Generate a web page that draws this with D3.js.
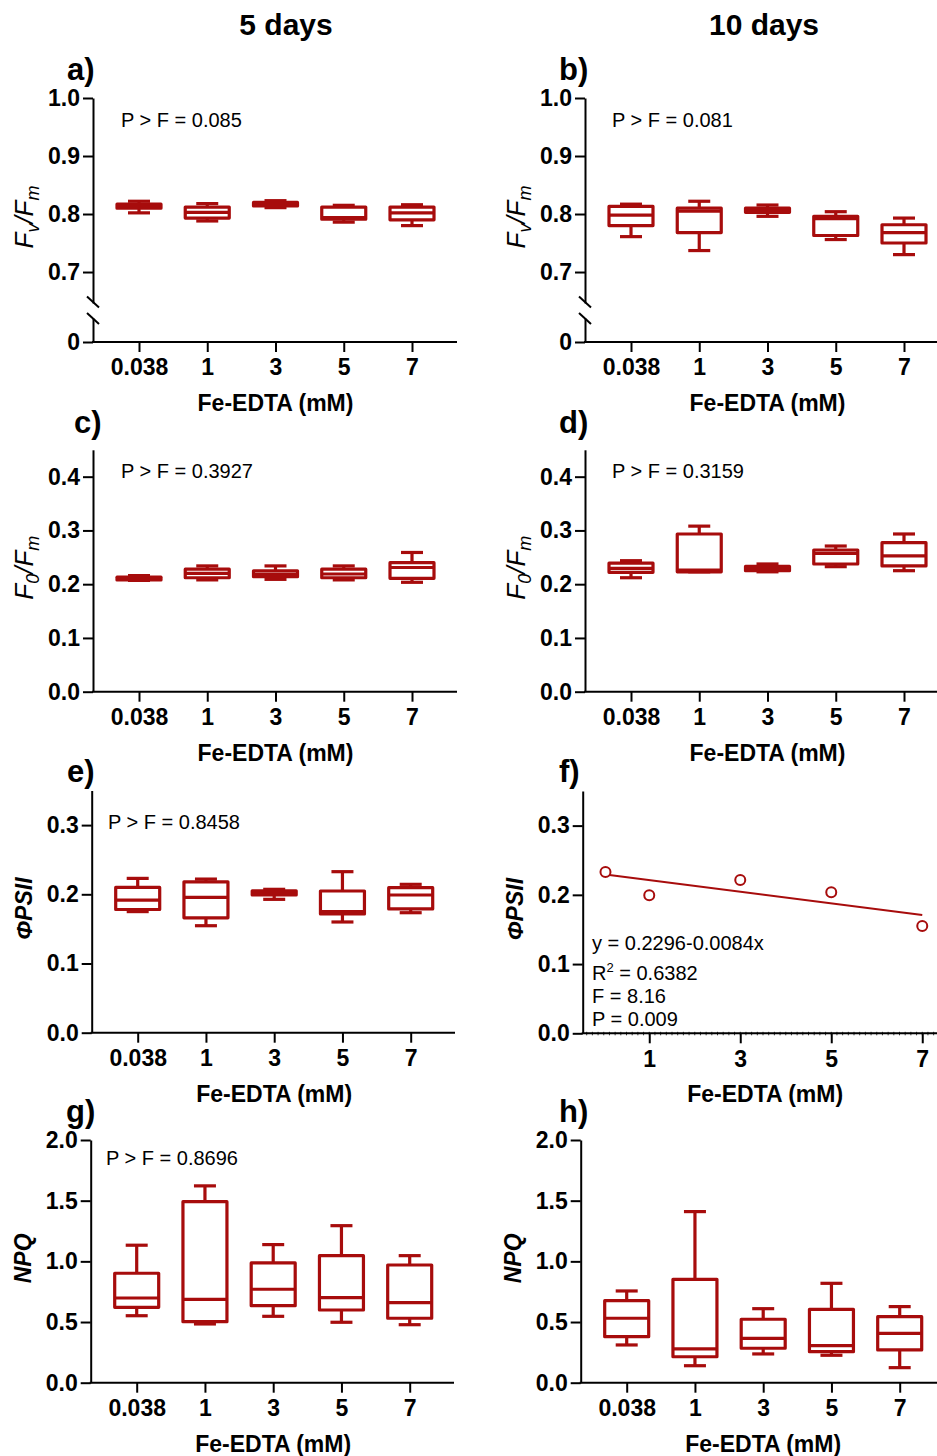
<!DOCTYPE html>
<html>
<head>
<meta charset="utf-8">
<script src="https://cdn.jsdelivr.net/npm/d3@7"></script>
<style>
body { margin: 0; background: #fff; }
svg { display: block; font-family: Arial, "Liberation Sans", sans-serif; }
.axis path, .axis line { stroke: #000; stroke-width: 2; }
.axis text { font-weight: bold; font-size: 23px; fill: #000; font-family: Arial, "Liberation Sans", sans-serif; }
</style>
</head>
<body>
<svg width="937" height="1456"></svg>
<script>
// doses on the x axis
const doses = [ "0.038", "1", "3", "5", "7" ];

// box stats per dose: [min, q1, median, q3, max]
const fvfm5d  = [ [0.802,0.810,0.814,0.817,0.822], [0.788,0.793,0.803,0.812,0.818], [0.811,0.814,0.817,0.820,0.823], [0.786,0.791,0.794,0.812,0.815], [0.780,0.790,0.802,0.812,0.816] ];
const fvfm10d = [ [0.761,0.780,0.798,0.813,0.817], [0.737,0.768,0.805,0.810,0.822], [0.796,0.803,0.806,0.810,0.8155], [0.756,0.763,0.792,0.796,0.804], [0.730,0.750,0.768,0.7815,0.793] ];
const fofm5d  = [ [0.207,0.208,0.210,0.213,0.216], [0.208,0.212,0.220,0.228,0.234], [0.209,0.214,0.219,0.225,0.234], [0.208,0.212,0.219,0.228,0.234], [0.2035,0.211,0.231,0.240,0.259] ];
const fofm10d = [ [0.212,0.222,0.2296,0.239,0.2437], [0.223,0.223,0.226,0.2934,0.308], [0.223,0.2251,0.229,0.233,0.2376], [0.2326,0.2376,0.2575,0.2636,0.271], [0.2251,0.2339,0.2525,0.2773,0.2934] ];
const psii5d  = [ [0.175,0.178,0.1917,0.210,0.223], [0.1546,0.166,0.1956,0.218,0.222], [0.1927,0.199,0.202,0.205,0.2072], [0.160,0.1715,0.175,0.2048,0.2327], [0.1734,0.1788,0.199,0.2096,0.2144] ];
const npq5d   = [ [0.552,0.621,0.698,0.902,1.133], [0.484,0.503,0.687,1.492,1.622], [0.547,0.635,0.770,0.987,1.138], [0.498,0.599,0.701,1.047,1.294], [0.478,0.531,0.660,0.970,1.047] ];
const npq10d  = [ [0.311,0.379,0.531,0.676,0.756], [0.140,0.214,0.278,0.852,1.410], [0.237,0.284,0.366,0.523,0.610], [0.226,0.256,0.305,0.605,0.819], [0.124,0.270,0.407,0.544,0.627] ];

// panel f: regression of PSII on dose (10 days)
const psii10dX = [ 0.038, 1, 3, 5, 7 ];
const psii10dY = [ 0.233, 0.1994, 0.2215, 0.2037, 0.155 ];
const fitIntercept = 0.2296, fitSlope = -0.0084;
const fitLines = [ "y = 0.2296-0.0084x", "R2 = 0.6382", "F = 8.16", "P = 0.009" ];

// tick values
const fvfmTicks = [ 0.7, 0.8, 0.9, 1.0 ];
const fofmTicks = [ 0.0, 0.1, 0.2, 0.3, 0.4 ];
const psiiTicks = [ 0.0, 0.1, 0.2, 0.3 ];
const npqTicks  = [ 0.0, 0.5, 1.0, 1.5, 2.0 ];
const regTicks  = [ 1, 3, 5, 7 ];

const pTexts = { a: "P > F = 0.085", b: "P > F = 0.081", c: "P > F = 0.3927", d: "P > F = 0.3159", e: "P > F = 0.8458", g: "P > F = 0.8696" };

const RED = "#a70c0c";
const svg = d3.select( "svg" );

svg.append( "text" ).attr( "x", 286 ).attr( "y", 35 ).attr( "text-anchor", "middle" )
	.style( "font-weight", "bold" ).style( "font-size", "30px" ).text( "5 days" );
svg.append( "text" ).attr( "x", 764 ).attr( "y", 35 ).attr( "text-anchor", "middle" )
	.style( "font-weight", "bold" ).style( "font-size", "30px" ).text( "10 days" );

function ylabel ( g, x, y, kind ) {
	let t = g.append( "text" ).attr( "transform", `translate(${x},${y}) rotate(-90)` )
		.attr( "text-anchor", "middle" ).style( "font-style", "italic" ).style( "font-size", "26px" );
	if ( kind === "fvfm" || kind === "fofm" ) {
		t.append( "tspan" ).text( "F" );
		t.append( "tspan" ).attr( "dy", 6 ).style( "font-size", "18px" ).text( kind === "fvfm" ? "v" : "0" );
		t.append( "tspan" ).attr( "dy", -6 ).text( "/F" );
		t.append( "tspan" ).attr( "dy", 6 ).style( "font-size", "18px" ).text( "m" );
	} else {
		t.style( "font-weight", "bold" ).style( "font-size", "23px" ).text( kind === "psii" ? "\u03A6PSII" : "NPQ" );
	}
}

function xaxis ( g, x, p ) {
	let ax = g.append( "g" ).attr( "class", "axis" ).attr( "transform", `translate(0,${p.axisY})` )
		.call( d3.axisBottom( x ).tickSize( 10 ).tickPadding( 7 ).tickSizeOuter( 0 ) );
	ax.select( ".domain" ).remove();
	ax.append( "line" ).attr( "x1", p.x0 - 1 ).attr( "x2", p.xEnd ).attr( "y1", 0 ).attr( "y2", 0 );
	g.append( "text" ).attr( "x", ( x.range()[0] + x.range()[1] ) / 2 ).attr( "y", p.axisY + 69 )
		.attr( "text-anchor", "middle" ).style( "font-weight", "bold" ).style( "font-size", "23px" ).text( "Fe-EDTA (mM)" );
}

function boxes ( g, x, y, data ) {
	let b = g.selectAll( ".box" ).data( data ).enter().append( "g" ).attr( "class", "box" )
		.attr( "transform", ( d, i ) => `translate(${x( doses[i] )},0)` )
		.style( "stroke", RED ).style( "stroke-width", 3.2 ).style( "fill", "none" ).style( "stroke-linejoin", "round" );
	b.append( "line" ).attr( "y1", d => y( d[4] ) ).attr( "y2", d => y( d[3] ) );
	b.append( "line" ).attr( "y1", d => y( d[1] ) ).attr( "y2", d => y( d[0] ) );
	b.append( "line" ).attr( "x1", -11 ).attr( "x2", 11 ).attr( "y1", d => y( d[4] ) ).attr( "y2", d => y( d[4] ) );
	b.append( "line" ).attr( "x1", -11 ).attr( "x2", 11 ).attr( "y1", d => y( d[0] ) ).attr( "y2", d => y( d[0] ) );
	b.append( "rect" ).attr( "x", -22 ).attr( "width", 44 )
		.attr( "y", d => y( d[3] ) ).attr( "height", d => Math.max( 0.5, y( d[1] ) - y( d[3] ) ) );
	b.append( "line" ).attr( "x1", -22 ).attr( "x2", 22 ).attr( "y1", d => y( d[2] ) ).attr( "y2", d => y( d[2] ) );
}

function labels ( g, p ) {
	g.append( "text" ).attr( "x", p.lx ).attr( "y", p.ly ).style( "font-weight", "bold" ).style( "font-size", "31px" ).text( p.id + ")" );
	if ( pTexts[ p.id ] ) g.append( "text" ).attr( "x", p.px ).attr( "y", p.py ).style( "font-size", "20px" ).text( pTexts[ p.id ] );
}

// broken axis panels (Fv/Fm)
function brokenPanel ( p, data ) {
	let g = svg.append( "g" );
	let x = d3.scalePoint().domain( doses ).range( [ p.x0 + 46, p.x0 + 319 ] );
	let y = d3.scaleLinear().domain( [ 0.6466, 1.0 ] ).range( [ 303, 98 ] );
	let yLow = d3.scaleLinear().domain( [ 0, 0.04 ] ).range( [ p.axisY, 318 ] );
	g.append( "g" ).attr( "class", "axis" ).attr( "transform", `translate(${p.x0},0)` )
		.call( d3.axisLeft( y ).tickValues( fvfmTicks ).tickFormat( d3.format( ".1f" ) ).tickSize( 10 ).tickPadding( 3 ).tickSizeOuter( 0 ) );
	g.append( "g" ).attr( "class", "axis" ).attr( "transform", `translate(${p.x0},0)` )
		.call( d3.axisLeft( yLow ).tickValues( [ 0 ] ).tickFormat( d3.format( "d" ) ).tickSize( 10 ).tickPadding( 3 ).tickSizeOuter( 0 ) );
	[ 302, 318.5 ].forEach( yc => {
		g.append( "line" ).attr( "x1", p.x0 - 6 ).attr( "x2", p.x0 + 6 ).attr( "y1", yc - 5.5 ).attr( "y2", yc + 5.5 )
			.style( "stroke", "#000" ).style( "stroke-width", 2 );
	});
	xaxis( g, x, p );
	boxes( g, x, y, data );
	ylabel( g, p.x0 - 60, 217, "fvfm" );
	labels( g, p );
}

function boxPanel ( p, data, ticks, fmt, top, kind ) {
	let g = svg.append( "g" );
	let x = d3.scalePoint().domain( doses ).range( [ p.x0 + 46, p.x0 + 319 ] );
	let y = d3.scaleLinear().domain( [ 0, top ] ).range( [ p.axisY, p.yTop ] );
	g.append( "g" ).attr( "class", "axis" ).attr( "transform", `translate(${p.x0},0)` )
		.call( d3.axisLeft( y ).tickValues( ticks ).tickFormat( d3.format( fmt ) ).tickSize( 10 ).tickPadding( 3 ).tickSizeOuter( 0 ) );
	xaxis( g, x, p );
	boxes( g, x, y, data );
	ylabel( g, p.x0 - 60, ( p.axisY + p.yTop ) / 2 - 3, kind );
	labels( g, p );
}

brokenPanel( { id: "a", x0: 93, xEnd: 457, axisY: 342, lx: 67, ly: 80, px: 121, py: 127 }, fvfm5d );
brokenPanel( { id: "b", x0: 585, xEnd: 937, axisY: 342, lx: 559, ly: 80, px: 612, py: 127 }, fvfm10d );
boxPanel( { id: "c", x0: 93, xEnd: 457, axisY: 691.7, yTop: 449.8, lx: 74, ly: 433, px: 121, py: 478 }, fofm5d, fofmTicks, ".1f", 0.45, "fofm" );
boxPanel( { id: "d", x0: 585, xEnd: 937, axisY: 691.7, yTop: 449.8, lx: 559, ly: 433, px: 612, py: 478 }, fofm10d, fofmTicks, ".1f", 0.45, "fofm" );
boxPanel( { id: "e", x0: 91.7, xEnd: 455, axisY: 1032.7, yTop: 790.5, lx: 67, ly: 782, px: 108, py: 829 }, psii5d, psiiTicks, ".1f", 0.35, "psii" );
boxPanel( { id: "g", x0: 90.7, xEnd: 454, axisY: 1382.7, yTop: 1140, lx: 66, ly: 1122, px: 106, py: 1165 }, npq5d, npqTicks, ".1f", 2.0, "npq" );
boxPanel( { id: "h", x0: 580.7, xEnd: 937, axisY: 1382.7, yTop: 1140, lx: 559, ly: 1122 }, npq10d, npqTicks, ".1f", 2.0, "npq" );

// panel f: scatter + regression line
( function () {
	let p = { id: "f", x0: 582.7, xEnd: 937, axisY: 1033.3, yTop: 791, lx: 559, ly: 782 };
	let g = svg.append( "g" );
	let x = d3.scaleLinear().domain( [ -0.5, 7.5 ] ).range( [ 581, 945 ] );
	let y = d3.scaleLinear().domain( [ 0, 0.35 ] ).range( [ p.axisY, p.yTop ] );
	g.append( "g" ).attr( "class", "axis" ).attr( "transform", `translate(${p.x0},0)` )
		.call( d3.axisLeft( y ).tickValues( psiiTicks ).tickFormat( d3.format( ".1f" ) ).tickSize( 10 ).tickPadding( 3 ).tickSizeOuter( 0 ) );
	let ax = g.append( "g" ).attr( "class", "axis" ).attr( "transform", `translate(0,${p.axisY})` )
		.call( d3.axisBottom( x ).tickValues( regTicks ).tickFormat( d3.format( "d" ) ).tickSize( 10 ).tickPadding( 7 ).tickSizeOuter( 0 ) );
	ax.select( ".domain" ).remove();
	ax.append( "line" ).attr( "x1", p.x0 - 1 ).attr( "x2", p.xEnd ).attr( "y1", 0 ).attr( "y2", 0 );
	ax.selectAll( ".minor" ).data( d3.range( -0.375, 7.5, 0.125 ) ).enter().append( "line" ).attr( "class", "minor" )
		.attr( "x1", d => x( d ) ).attr( "x2", d => x( d ) ).attr( "y1", -1.5 ).attr( "y2", 2 ).style( "stroke-width", 0.8 );
	g.append( "text" ).attr( "x", p.x0 + 182.5 ).attr( "y", p.axisY + 69 )
		.attr( "text-anchor", "middle" ).style( "font-weight", "bold" ).style( "font-size", "23px" ).text( "Fe-EDTA (mM)" );

	g.append( "line" )
		.attr( "x1", x( psii10dX[0] ) ).attr( "y1", y( fitIntercept + fitSlope * psii10dX[0] ) )
		.attr( "x2", x( psii10dX[4] ) ).attr( "y2", y( fitIntercept + fitSlope * psii10dX[4] ) )
		.style( "stroke", RED ).style( "stroke-width", 2 );
	g.selectAll( ".pt" ).data( psii10dY ).enter().append( "circle" ).attr( "class", "pt" )
		.attr( "cx", ( d, i ) => x( psii10dX[i] ) ).attr( "cy", d => y( d ) ).attr( "r", 5 )
		.style( "fill", "#fff" ).style( "stroke", RED ).style( "stroke-width", 2 );

	let baselines = [ 950, 980, 1003, 1026 ];
	fitLines.forEach( ( s, i ) => {
		let t = g.append( "text" ).attr( "x", 592 ).attr( "y", baselines[i] ).style( "font-size", "20px" );
		if ( s.startsWith( "R2" ) ) {
			t.append( "tspan" ).text( "R" );
			t.append( "tspan" ).attr( "dy", -8 ).style( "font-size", "13px" ).text( "2" );
			t.append( "tspan" ).attr( "dy", 8 ).text( s.slice( 2 ) );
		} else t.text( s );
	});
	ylabel( g, p.x0 - 60, ( p.axisY + p.yTop ) / 2 - 3, "psii" );
	labels( g, p );
})();
</script>
</body>
</html>
